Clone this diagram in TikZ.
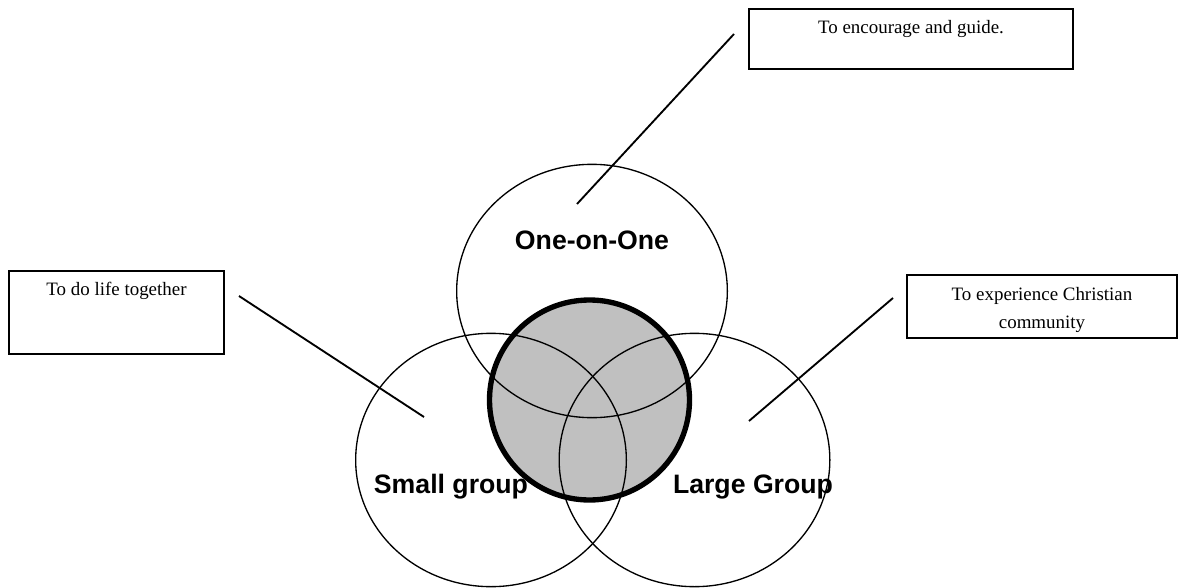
\documentclass[tikz,border=0pt]{standalone}
\usepackage{fontspec}
\setmainfont{Liberation Serif}
\setsansfont{Liberation Sans}
\usetikzlibrary{shapes.geometric, positioning}
\definecolor{coregray}{RGB}{192,192,192}
\tikzset{
ring/.style={ellipse, draw, line width=1pt, minimum width=203pt, minimum height=190pt}, % the three outer ellipses
ringlabel/.style={font=\sffamily\bfseries\fontsize{20}{24}\selectfont, anchor=base},
callout/.style={draw, line width=1.4pt}, % boxes holding the aims
calltext/.style={font=\fontsize{14.2}{21}\selectfont, align=center, inner sep=0pt},
pointer/.style={line width=1.4pt},
}

\begin{document}
\begin{tikzpicture}[x=0.75pt, y=-0.75pt]
                \useasboundingbox (0,0) rectangle (1181,588);

                \node[circle, draw, fill=coregray, line width=4pt, minimum size=150pt] (core) at (589.5,400) {};
                \node[ring] (oneRing) at (592,291) {};
                \node[ring] (smallRing) at (491,460) {};
                \node[ring] (largeRing) at (694.5,460) {};

                \node[ringlabel] (oneLabel) at (592,249) {One-on-One};
                \node[ringlabel] (smallLabel) at (451,493) {Small group};
                \node[ringlabel] (largeLabel) at (753,493) {Large Group};

                \node[callout, minimum width=243pt, minimum height=45pt,
                      label={[calltext, anchor=north, yshift=-9pt]north:To encourage and guide.}] (guideBox) at (911,39) {};
                \node[callout, minimum width=161pt, minimum height=62pt,
                      label={[calltext, anchor=north, yshift=-9pt]north:To do life together}] (lifeBox) at (116.5,312.5) {};
                \node[callout, minimum width=202.5pt, minimum height=47pt,
                      label={[calltext, anchor=north, yshift=-10pt]north:To experience Christian\\community}] (communityBox) at (1042,306.5) {};

                \coordinate (guideStart) at (734,34);
                \coordinate (guideEnd) at (577,204);
                \coordinate (lifeStart) at (239,296);
                \coordinate (lifeEnd) at (424,417);
                \coordinate (communityStart) at (893,298);
                \coordinate (communityEnd) at (749,421);

                \draw[pointer] (guideStart) -- (guideEnd);
                \draw[pointer] (lifeStart) -- (lifeEnd);
                \draw[pointer] (communityStart) -- (communityEnd);
            \end{tikzpicture}
\end{document}
